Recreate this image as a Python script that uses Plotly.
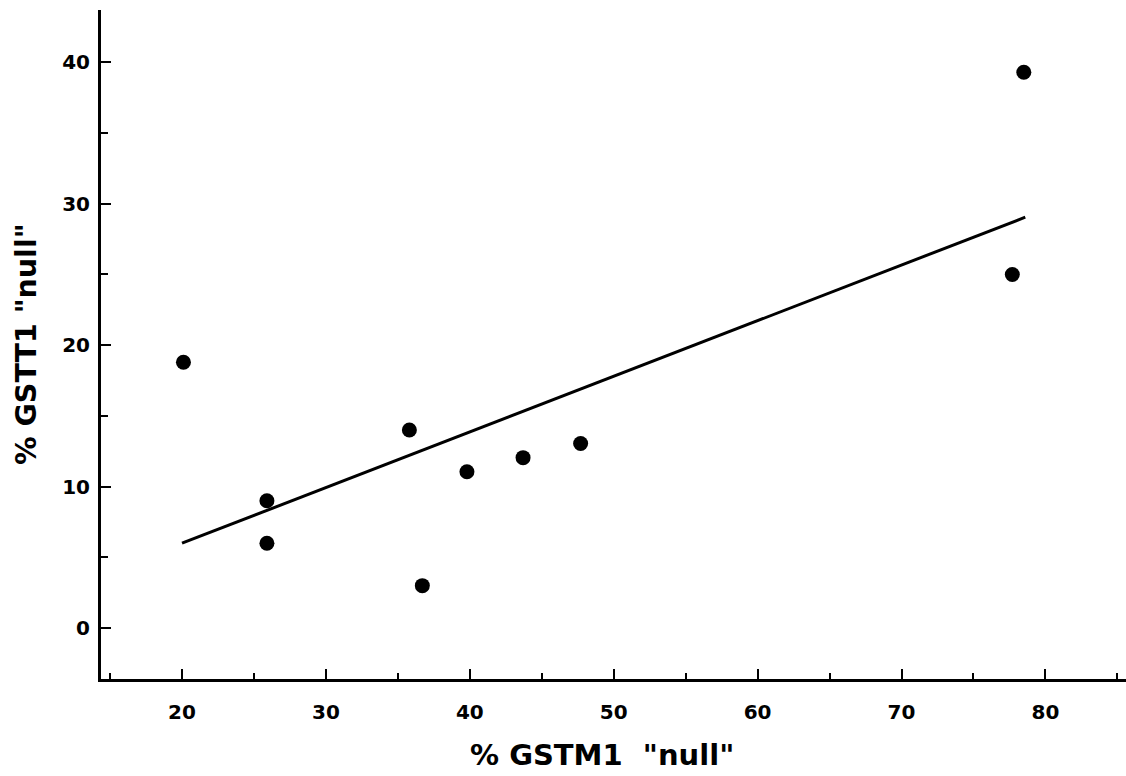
import plotly.graph_objects as go

# Data
gstm1_null = [20.1, 25.9, 25.9, 35.8, 36.7, 39.8, 43.7, 47.7, 77.7, 78.5]
gstt1_null = [18.8, 9.0, 6.0, 14.0, 3.0, 11.05, 12.05, 13.05, 25.0, 39.3]

# Regression line end points
fit_x = [20.0, 78.6]
fit_y = [6.0, 29.05]

x_ticks = [20, 30, 40, 50, 60, 70, 80]
y_ticks = [0, 10, 20, 30, 40]

fig = go.Figure()
fig.add_trace(go.Scatter(x=fit_x, y=fit_y, mode="lines",
                         line=dict(color="black", width=3), showlegend=False))
fig.add_trace(go.Scatter(x=gstm1_null, y=gstt1_null, mode="markers",
                         marker=dict(color="black", size=15), showlegend=False))

FONT = "DejaVu Sans, Arial, sans-serif"
tickfont = dict(family=FONT, size=20, color="black")

fig.update_layout(
    width=1126, height=776,
    margin=dict(l=101, r=0, t=10, b=97),
    paper_bgcolor="white", plot_bgcolor="white",
    font=dict(family=FONT, color="black"),
    xaxis=dict(range=[14.37, 85.6], tickvals=x_ticks,
               ticktext=[f"<b>{v}</b>" for v in x_ticks],
               showgrid=False, zeroline=False,
               showline=True, linecolor="black", linewidth=3,
               ticks="inside", ticklen=10, tickwidth=2, tickcolor="black",
               minor=dict(dtick=5, tick0=0, ticks="inside", ticklen=6, tickwidth=2, tickcolor="black"),
               tickfont=tickfont, ticklabelstandoff=13),
    yaxis=dict(range=[-3.6, 43.7], tickvals=y_ticks,
               ticktext=[f"<b>{v}</b>" for v in y_ticks],
               showgrid=False, zeroline=False,
               showline=True, linecolor="black", linewidth=3,
               ticks="inside", ticklen=10, tickwidth=2, tickcolor="black",
               minor=dict(dtick=5, tick0=0, ticks="inside", ticklen=7, tickwidth=2, tickcolor="black"),
               tickfont=tickfont, ticklabelstandoff=4),
)

fig.add_annotation(text='<b>% GSTM1  "null"</b>', xref="paper", yref="paper",
                   x=(602 - 101) / 1025, y=-(755 - 679) / 669, xanchor="center", yanchor="middle",
                   showarrow=False, font=dict(size=29, family=FONT))
fig.add_annotation(text='<b>% GSTT1 "null"</b>', xref="paper", yref="paper",
                   x=-(101 - 26) / 1025, y=(679 - 344) / 669, xanchor="center", yanchor="middle",
                   textangle=-90, showarrow=False,
                   font=dict(size=28.5, family=FONT))

fig.write_html("out.html", config={"displayModeBar": False},
               post_script="document.body.style.margin='0px';document.body.style.overflow='hidden';")
